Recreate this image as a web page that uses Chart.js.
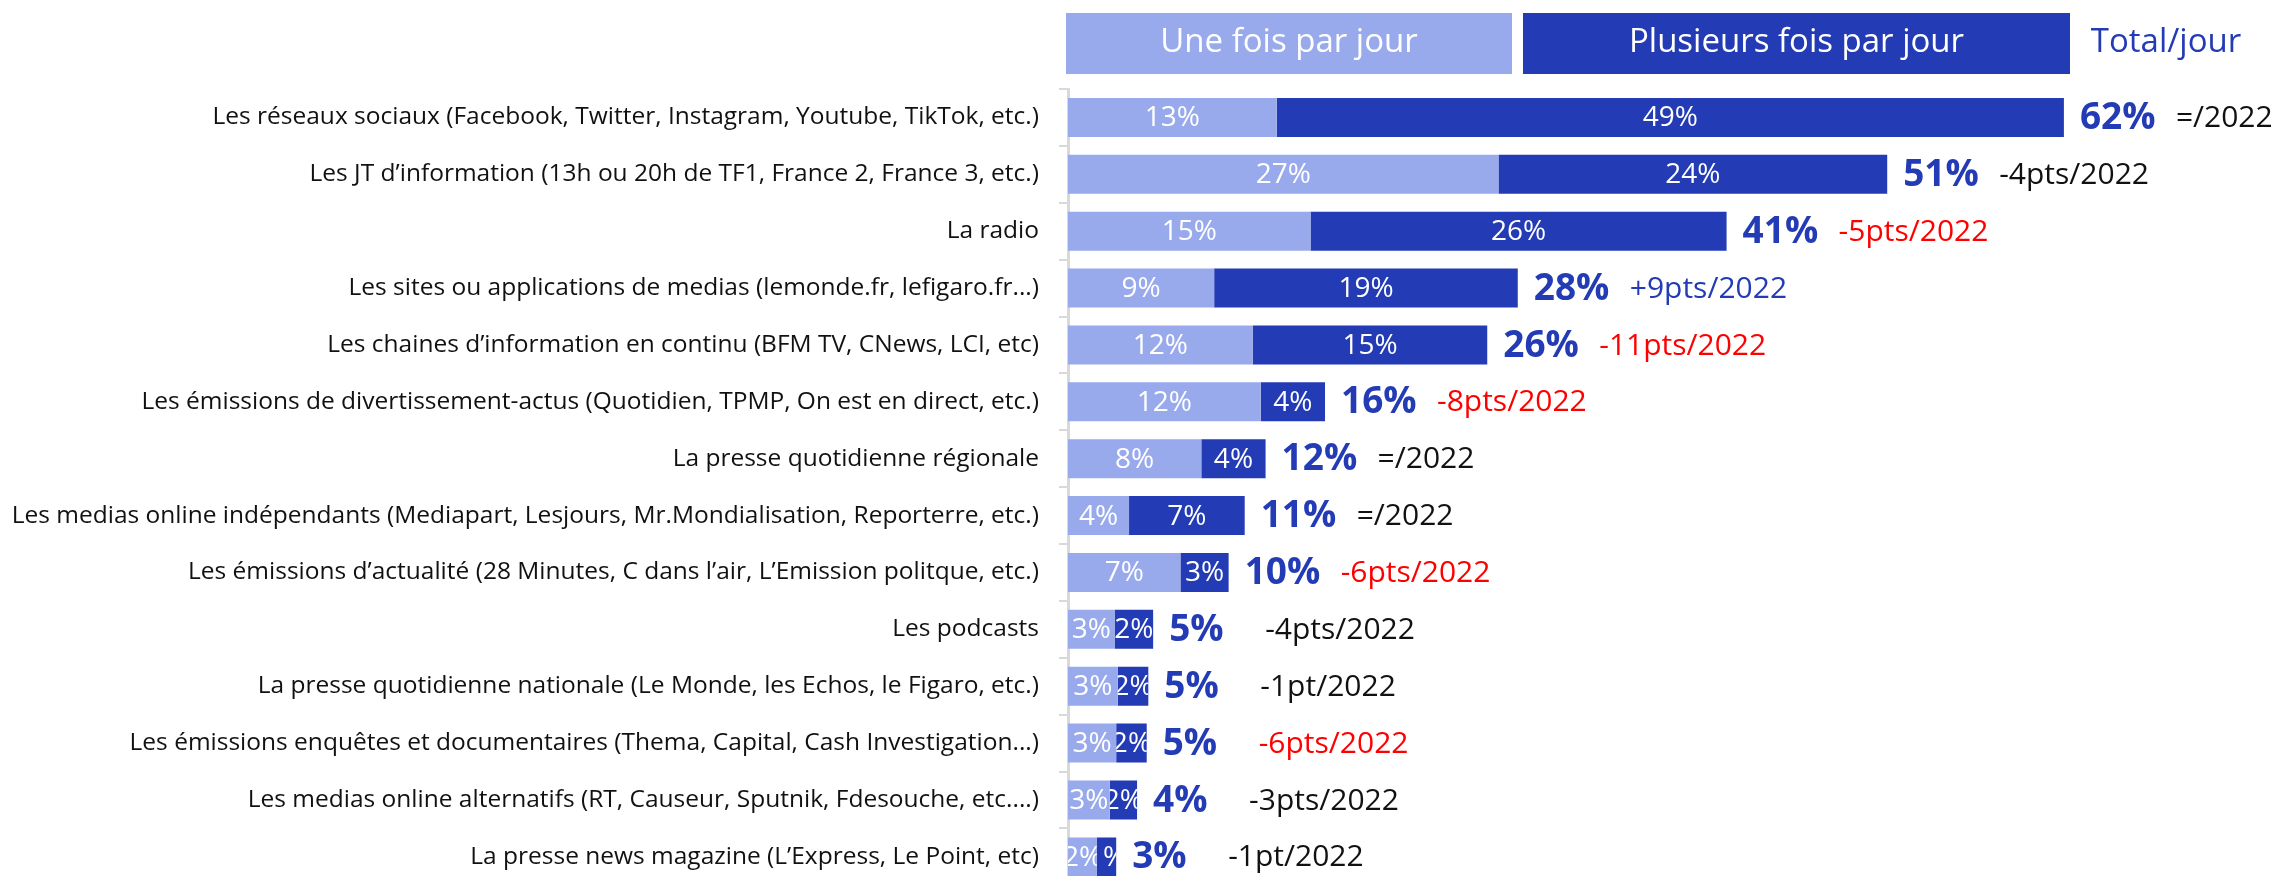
<!DOCTYPE html>
<html lang="fr">
<head>
<meta charset="utf-8">
<script src="https://cdn.jsdelivr.net/npm/chart.js@4.4.1/dist/chart.umd.min.js"></script>
<style>
  html, body { margin: 0; padding: 0; background: #fff; overflow: hidden; }
  #wrap { width: 2292px; height: 920px; }
</style>
</head>
<body>
<div id="wrap"><canvas id="chart" width="2292" height="920"></canvas></div>
<script>
const categories = [
  'Les réseaux sociaux (Facebook, Twitter, Instagram, Youtube, TikTok, etc.)',
  'Les JT d\u2019information (13h ou 20h de TF1, France 2, France 3, etc.)',
  'La radio',
  'Les sites ou applications de medias (lemonde.fr, lefigaro.fr...)',
  'Les chaines d\u2019information en continu (BFM TV, CNews, LCI, etc)',
  'Les émissions de divertissement-actus (Quotidien, TPMP, On est en direct, etc.)',
  'La presse quotidienne régionale',
  'Les medias online indépendants (Mediapart, Lesjours, Mr.Mondialisation, Reporterre, etc.)',
  'Les émissions d\u2019actualité (28 Minutes, C dans l\u2019air, L\u2019Emission politque, etc.)',
  'Les podcasts',
  'La presse quotidienne nationale (Le Monde, les Echos, le Figaro, etc.)',
  'Les émissions enquêtes et documentaires (Thema, Capital, Cash Investigation...)',
  'Les medias online alternatifs (RT, Causeur, Sputnik, Fdesouche, etc....)',
  'La presse news magazine (L\u2019Express, Le Point, etc)'
];
const onceADay = [13, 26.8, 15.1, 9.1, 11.5, 12, 8.3, 3.8, 7, 2.9, 3.1, 3, 2.6, 1.8];
const severalTimesADay = [49, 24.2, 25.9, 18.9, 14.6, 4, 4, 7.2, 3, 2.4, 1.9, 1.9, 1.7, 1.2];
const vs2022 = ['=/2022', '-4pts/2022', '-5pts/2022', '+9pts/2022', '-11pts/2022', '-8pts/2022', '=/2022',
  '=/2022', '-6pts/2022', '-4pts/2022', '-1pt/2022', '-6pts/2022', '-3pts/2022', '-1pt/2022'];
const trend2022 = ['', '', 'down', 'up', 'down', 'down', '', '', 'down', '', '', 'down', '', ''];

const LIGHT = '#99aaec';
const DARK = '#233bb4';
const FONT = '"Open Sans"';

// white % inside each segment, then total and evolution to the right
const barLabels = {
  id: 'barLabels',
  afterDatasetsDraw(chart) {
    const ctx = chart.ctx;
    const metas = [chart.getDatasetMeta(0), chart.getDatasetMeta(1)];
    ctx.save();
    ctx.textBaseline = 'middle';
    metas.forEach((meta, di) => {
      meta.data.forEach((bar, i) => {
        const v = chart.data.datasets[di].data[i];
        const x0 = Math.min(bar.base, bar.x), x1 = Math.max(bar.base, bar.x);
        ctx.save();
        ctx.beginPath();
        ctx.rect(x0, bar.y - bar.height / 2, x1 - x0, bar.height);
        ctx.clip();
        ctx.fillStyle = '#fff';
        ctx.font = '28px ' + FONT;
        ctx.textAlign = 'center';
        ctx.fillText(Math.round(v) + '%', (x0 + x1) / 2, bar.y + 1);
        ctx.restore();
      });
    });
    metas[1].data.forEach((bar, i) => {
      const total = Math.round(onceADay[i] + severalTimesADay[i]);
      ctx.textAlign = 'left';
      ctx.font = 'bold 37px ' + FONT;
      ctx.fillStyle = DARK;
      ctx.fillText(total + '%', bar.x + 16, bar.y + 1);
      ctx.font = '30px ' + FONT;
      ctx.fillStyle = trend2022[i] === 'down' ? '#ff0000' : trend2022[i] === 'up' ? DARK : '#111';
      ctx.fillText(vs2022[i], bar.x + 112, bar.y + 1);
    });
    ctx.restore();
  }
};

// big coloured header boxes instead of the default legend
const headerBoxes = {
  id: 'headerBoxes',
  afterDraw(chart) {
    const ctx = chart.ctx;
    const boxes = [[1066, 1512], [1523, 2070]];
    ctx.save();
    ctx.textBaseline = 'middle';
    ctx.textAlign = 'center';
    ctx.font = '33px ' + FONT;
    chart.data.datasets.forEach((ds, i) => {
      const [a, b] = boxes[i];
      ctx.fillStyle = ds.backgroundColor;
      ctx.fillRect(a, 13, b - a, 61);
      ctx.fillStyle = '#fff';
      ctx.fillText(ds.label, (a + b) / 2, 43);
    });
    ctx.fillStyle = DARK;
    ctx.fillText('Total/jour', 2166, 43);
    ctx.restore();
  }
};

new Chart(document.getElementById('chart'), {
  type: 'bar',
  data: {
    labels: categories,
    datasets: [
      { label: 'Une fois par jour', data: onceADay, backgroundColor: LIGHT },
      { label: 'Plusieurs fois par jour', data: severalTimesADay, backgroundColor: DARK }
    ]
  },
  options: {
    indexAxis: 'y',
    responsive: false,
    animation: false,
    layout: { padding: { top: 89, left: 0, right: 0, bottom: 0 } },
    datasets: { bar: { barPercentage: 0.685, categoryPercentage: 1 } },
    scales: {
      x: { stacked: true, display: false, min: 0, max: 76.2 },
      y: {
        stacked: true,
        grid: { offset: true, drawOnChartArea: false, drawTicks: true, tickLength: 9, color: '#d9d9d9', lineWidth: 2 },
        border: { display: true, color: '#d9d9d9', width: 3 },
        ticks: { color: '#111', font: { family: FONT, size: 24.5 }, padding: 20, autoSkip: false },
        afterFit(scale) { scale.width = 1068; }
      }
    },
    plugins: { legend: { display: false }, tooltip: { enabled: false } }
  },
  plugins: [barLabels, headerBoxes]
});
</script>
</body>
</html>
